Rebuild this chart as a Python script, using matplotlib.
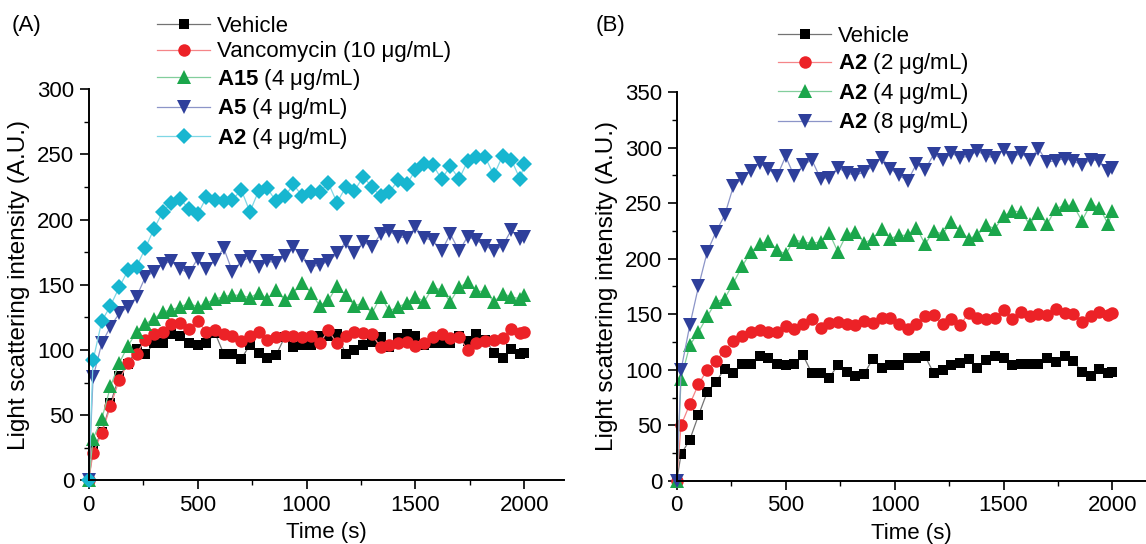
import matplotlib

matplotlib.use("Agg")
import matplotlib.pyplot as plt
from matplotlib.colors import to_rgb
from matplotlib.ticker import MultipleLocator

plt.rcParams["font.family"] = ["Liberation Sans", "DejaVu Sans"]
plt.rcParams["mathtext.fontset"] = "custom"
plt.rcParams["mathtext.rm"] = "Liberation Sans"
plt.rcParams["mathtext.bf"] = "Liberation Sans:bold"

# sampling times (s): 0, then every 40 s from 20 to 1980, then 2000
time_s = [0, 20, 60, 100, 140, 180, 220, 260, 300, 340, 380, 420, 460, 500, 540, 580,
          620, 660, 700, 740, 780, 820, 860, 900, 940, 980, 1020, 1060, 1100, 1140, 1180,
          1220, 1260, 1300, 1340, 1380, 1420, 1460, 1500, 1540, 1580, 1620, 1660, 1700,
          1740, 1780, 1820, 1860, 1900, 1940, 1980, 2000]

vehicle = [0, 24, 37, 59, 80, 89, 101, 97, 105, 105, 112, 111, 105, 104, 105, 113,
           97, 97, 93, 104, 98, 94, 96, 110, 102, 104, 104, 111, 111, 112, 97,
           100, 104, 106, 110, 102, 109, 112, 111, 104, 105, 105, 105, 111,
           107, 112, 108, 98, 94, 101, 97, 98]
vancomycin_10 = [0, 21, 36, 57, 77, 90, 97, 108, 112, 114, 120, 121, 116, 122, 114, 115,
                 112, 111, 107, 111, 114, 108, 110, 111, 111, 110, 111, 105, 115, 105, 111,
                 114, 113, 112, 102, 104, 105, 106, 103, 105, 110, 112, 109, 110,
                 100, 105, 107, 108, 109, 116, 113, 114]
a15_4 = [0, 32, 47, 72, 90, 103, 114, 120, 124, 129, 131, 133, 136, 133, 136, 139,
         141, 142, 142, 140, 144, 139, 146, 138, 144, 151, 144, 134, 138, 149, 142,
         134, 136, 128, 141, 130, 133, 136, 141, 137, 148, 146, 137, 148,
         152, 145, 145, 137, 143, 141, 139, 142]
a5_4 = [0, 79, 105, 118, 128, 133, 141, 156, 160, 166, 168, 162, 159, 170, 162, 169,
        178, 160, 168, 171, 164, 168, 167, 172, 179, 172, 164, 165, 168, 174, 183,
        174, 183, 179, 189, 191, 187, 186, 194, 186, 184, 176, 189, 176,
        187, 184, 180, 176, 180, 192, 185, 187]
a2_4 = [0, 92, 122, 134, 148, 161, 164, 178, 193, 206, 213, 216, 208, 204, 217, 215,
        214, 215, 223, 206, 222, 224, 214, 218, 227, 218, 221, 221, 228, 213, 225,
        222, 233, 225, 218, 221, 230, 227, 238, 243, 242, 231, 241, 231,
        245, 248, 248, 234, 249, 246, 231, 243]
a2_2 = [0, 50, 69, 87, 100, 108, 117, 126, 130, 134, 136, 134, 134, 139, 137, 141,
        146, 138, 142, 143, 141, 140, 144, 142, 147, 147, 141, 137, 141, 148, 149,
        141, 146, 140, 151, 147, 146, 147, 154, 146, 152, 148, 150, 149,
        155, 151, 150, 143, 148, 152, 149, 151]
a2_8 = [0, 100, 140, 175, 206, 224, 239, 265, 272, 279, 286, 281, 274, 292, 274, 284,
        289, 272, 273, 282, 277, 275, 278, 283, 291, 281, 275, 270, 285, 280, 294,
        289, 295, 291, 292, 297, 292, 291, 298, 291, 295, 289, 299, 287,
        288, 290, 288, 284, 289, 288, 279, 282]

BLACK = "#000000"
RED = "#ec2227"
GREEN = "#1ba64b"
BLUE = "#2e3f9b"
CYAN = "#17b6d0"

FONT = 16
MU_LABEL = "({} μg/mL)"

series_a = [
    (vehicle, BLACK, "s", 7.2, "Vehicle"),
    (vancomycin_10, RED, "o", 9.0, "Vancomycin " + MU_LABEL.format(10)),
    (a15_4, GREEN, "^", 9.8, r"$\mathbf{A15}$ " + MU_LABEL.format(4)),
    (a5_4, BLUE, "v", 9.8, r"$\mathbf{A5}$ " + MU_LABEL.format(4)),
    (a2_4, CYAN, "D", 8.2, r"$\mathbf{A2}$ " + MU_LABEL.format(4)),
]
series_b = [
    (vehicle, BLACK, "s", 7.2, "Vehicle"),
    (a2_2, RED, "o", 9.0, r"$\mathbf{A2}$ " + MU_LABEL.format(2)),
    (a2_4, GREEN, "^", 9.8, r"$\mathbf{A2}$ " + MU_LABEL.format(4)),
    (a2_8, BLUE, "v", 9.8, r"$\mathbf{A2}$ " + MU_LABEL.format(8)),
]


def lighten(color, amount=0.45):
    r, g, b = to_rgb(color)
    return (r + (1 - r) * amount, g + (1 - g) * amount, b + (1 - b) * amount)


def style_axes(ax, y_max, x_max):
    ax.set_xlim(0, x_max)
    ax.set_ylim(0, y_max)
    for side in ("top", "right"):
        ax.spines[side].set_visible(False)
    for side in ("left", "bottom"):
        ax.spines[side].set_linewidth(1.4)
    ax.xaxis.set_major_locator(MultipleLocator(500))
    ax.xaxis.set_minor_locator(MultipleLocator(250))
    ax.yaxis.set_major_locator(MultipleLocator(50))
    ax.yaxis.set_minor_locator(MultipleLocator(25))
    ax.tick_params(which="major", direction="out", length=6.5, width=1.2, labelsize=FONT, pad=4)
    ax.tick_params(which="minor", direction="out", length=3.8, width=1.0)
    ax.set_xlabel("Time (s)", fontsize=FONT, labelpad=4.5)
    ax.set_ylabel("Light scattering intensity (A.U.)", fontsize=17.5, labelpad=5)


def draw_panel(ax, series):
    for values, color, marker, size, label in series:
        ax.plot(time_s, values, color=lighten(color), marker=marker, markersize=size,
                markerfacecolor=color, markeredgewidth=0, linewidth=0.9,
                label=label, clip_on=False)


fig = plt.figure(figsize=(11.46, 5.44), dpi=100)
ax_a = fig.add_axes([0.0774, 0.117, 0.4144, 0.719])
ax_b = fig.add_axes([0.5905, 0.116, 0.4095, 0.715])

draw_panel(ax_a, series_a)
style_axes(ax_a, 300, 2180)
draw_panel(ax_b, series_b)
style_axes(ax_b, 350, 2154)

legend_kw = dict(loc="upper left", frameon=False, fontsize=FONT, borderpad=0, borderaxespad=0,
                 handlelength=2.4, handletextpad=0.3, labelspacing=0.2, numpoints=1)
fig.legend(*ax_a.get_legend_handles_labels(), bbox_to_anchor=(157 / 1146, 1 - 16 / 544), **legend_kw)
fig.legend(*ax_b.get_legend_handles_labels(), bbox_to_anchor=(778 / 1146, 1 - 26 / 544), **legend_kw)

fig.text(12 / 1146, 1 - 26 / 544, "(A)", fontsize=FONT, va="center", ha="left")
fig.text(596 / 1146, 1 - 26 / 544, "(B)", fontsize=FONT, va="center", ha="left")

fig.savefig("out.png", dpi=100)
plt.close(fig)
